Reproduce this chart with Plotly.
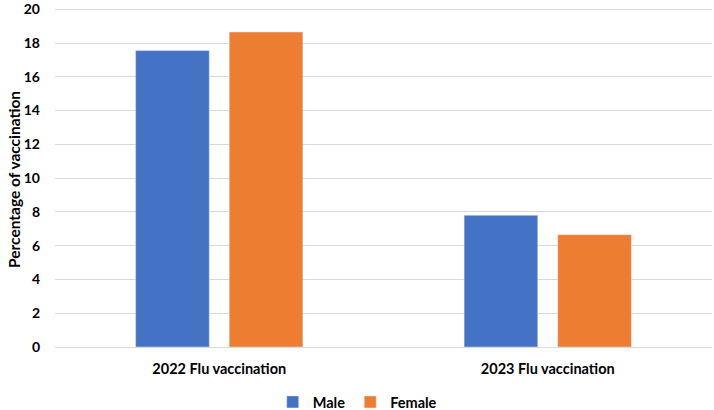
import plotly.graph_objects as go

categories = ["2022 Flu vaccination", "2023 Flu vaccination"]
male = [17.55, 7.8]
female = [18.65, 6.65]
y_ticks = [0, 2, 4, 6, 8, 10, 12, 14, 16, 18, 20]

FONT = "Lato"
fig = go.Figure()
fig.add_trace(go.Bar(name="Male", x=categories, y=male, marker_color="#4472C4"))
fig.add_trace(go.Bar(name="Female", x=categories, y=female, marker_color="#ED7D31"))

fig.update_layout(
    width=714, height=410,
    margin=dict(l=55, r=2, t=5, b=63, autoexpand=False),
    paper_bgcolor="white", plot_bgcolor="white",
    barmode="group", bargap=0.43, bargroupgap=0.213,
    font=dict(family=FONT, size=14, color="#000000"),
    showlegend=True,
    legend=dict(orientation="h", x=0.46, xanchor="center",
                yref="container", y=1 - 402 / 410, yanchor="middle",
                font=dict(family=FONT, size=14.5, color="#000000", weight="bold"),
                itemwidth=30, traceorder="normal"),
    xaxis=dict(showgrid=False, showline=True, linecolor="#D9D9D9", linewidth=1,
               tickfont=dict(family=FONT, size=14.5, weight="bold"), ticks="",
               ticklabelstandoff=9, automargin=False),
    yaxis=dict(range=[0, 20.25], tickvals=y_ticks, showgrid=True, gridcolor="#D9D9D9",
               gridwidth=1, zeroline=False, showline=False, ticks="",
               tickfont=dict(family=FONT, size=14, weight="bold"), ticklabelstandoff=14,
               automargin=False, ticklabeloverflow="allow"),
    annotations=[dict(text="Percentage of vaccination", xref="paper", yref="paper",
                      x=-(55 - 14) / 657, y=(347 - 180) / 342, xanchor="center", yanchor="middle",
                      textangle=-90, showarrow=False,
                      font=dict(family=FONT, size=15.5, weight="bold", color="#000000"))],
)
fig.write_html("out.html")
